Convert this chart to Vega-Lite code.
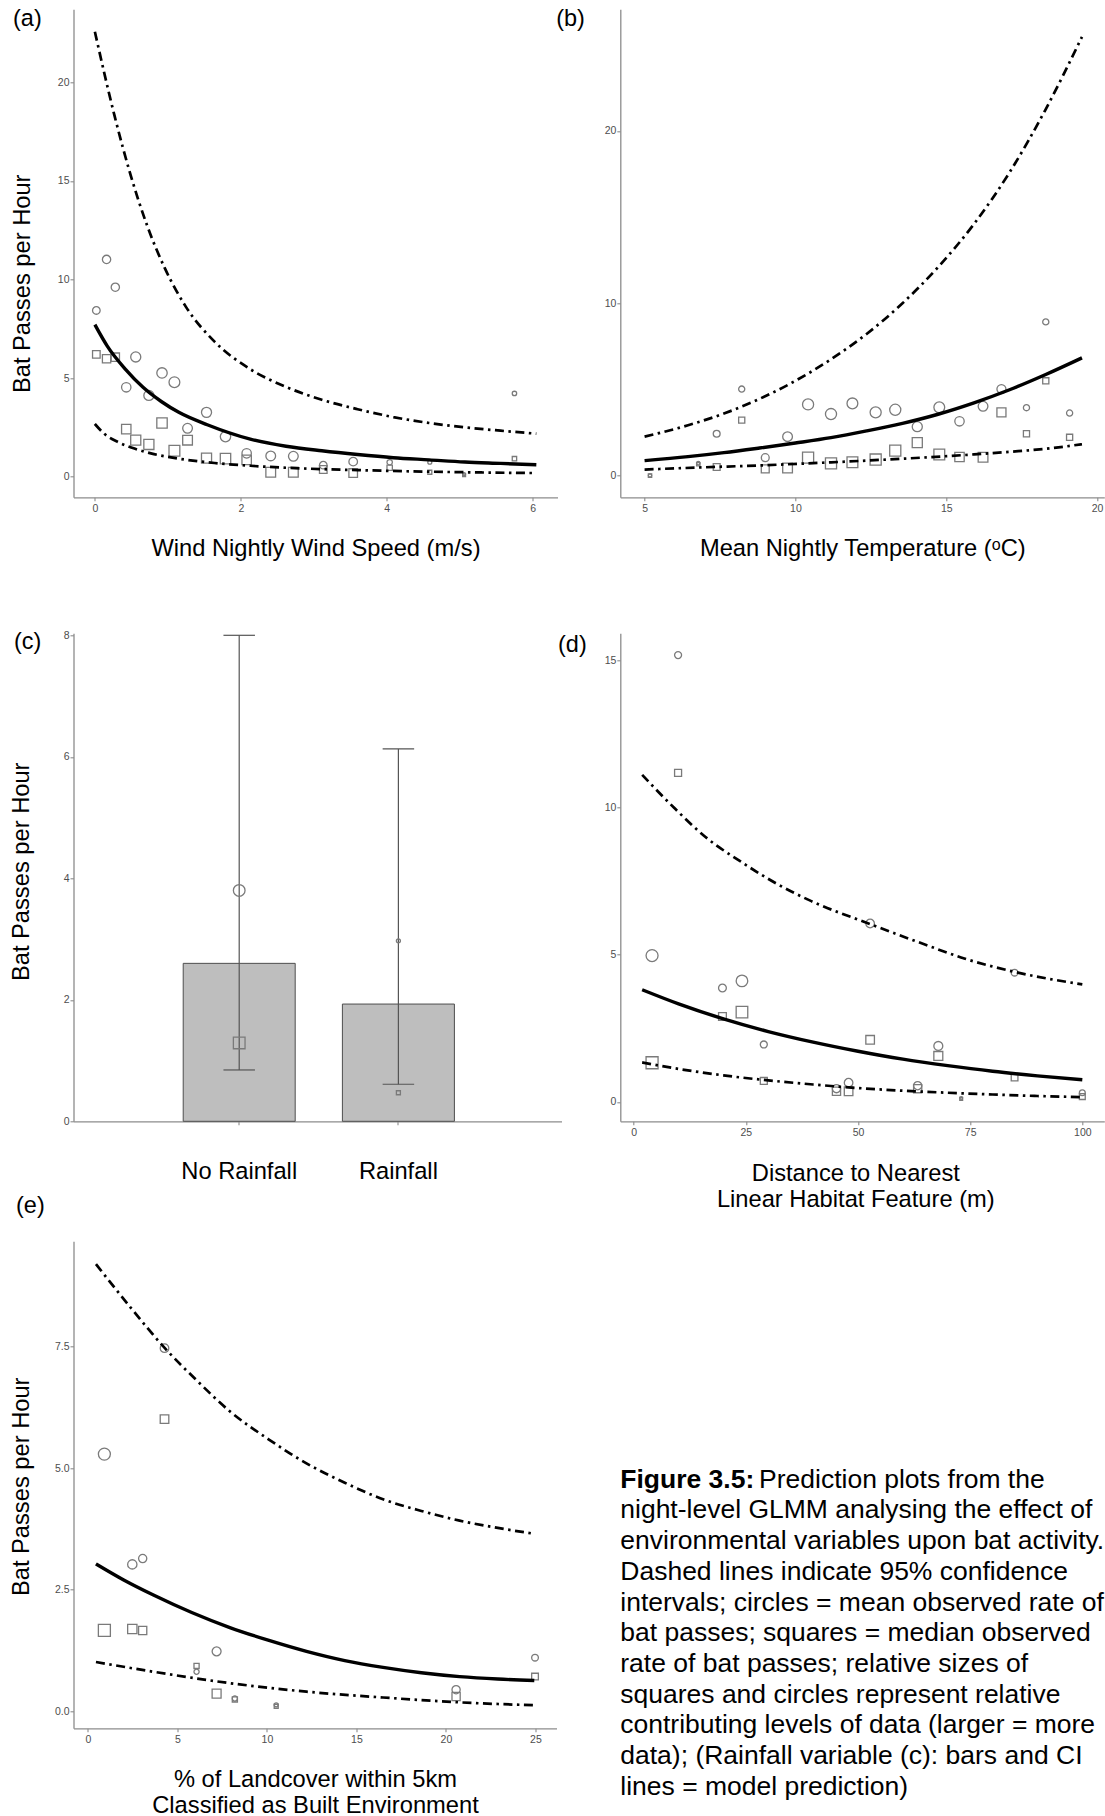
{
  "$schema": "https://vega.github.io/schema/vega-lite/v6.json",
  "padding": {"left": 9.5, "top": 7.3, "right": 0, "bottom": 0},
  "bounds": "flush",
  "align": "each",
  "columns": 2,
  "spacing": {"row": 0, "column": 58.8},
  "concat": [
    {
      "width": 484, "height": 488,
      "title": {"text": "(a)", "dx": -60.5, "dy": 25.7},
      "encoding": {
        "x": {"field": "x", "type": "quantitative", "scale": {"domain": [-0.293, 6.34], "nice": false, "zero": false}, "axis": {"values": [0, 2, 4, 6], "title": "Wind Nightly Wind Speed (m/s)", "titleY": 39.3}},
        "y": {"field": "y", "type": "quantitative", "scale": {"domain": [-1.05, 23.71], "nice": false, "zero": false}, "axis": {"values": [0, 5, 10, 15, 20], "title": "Bat Passes per Hour", "titleX": -43.7, "titleY": 274}}
      },
      "layer": [
        {
          "data": {"name": "a_pts"},
          "transform": [{"fold": ["mean", "median"], "as": ["stat", "y"]}],
          "mark": {"type": "point", "filled": false, "strokeWidth": 1.3, "color": "#7a7a7a", "opacity": 1},
          "encoding": {
            "shape": {"field": "stat", "type": "nominal", "scale": {"domain": ["mean", "median"], "range": ["circle", "square"]}, "legend": null},
            "size": {"field": "w", "type": "quantitative", "scale": {"domain": [0, 20], "range": [0, 160]}, "legend": null}
          }
        },
        {
          "data": {"name": "a_cur"},
          "transform": [{"filter": "datum.band != 'fit'"}],
          "mark": {"type": "line", "color": "#000000", "strokeWidth": 2.7, "strokeDash": [9, 4.5, 2.5, 4.5], "interpolate": "monotone"},
          "encoding": {"detail": {"field": "band", "type": "nominal"}}
        },
        {
          "data": {"name": "a_cur"},
          "transform": [{"filter": "datum.band == 'fit'"}],
          "mark": {"type": "line", "color": "#000000", "strokeWidth": 3.4, "interpolate": "monotone"},
          "encoding": {}
        }
      ]
    },
    {
      "width": 484, "height": 488,
      "title": {"text": "(b)", "dx": -64.1, "dy": 25.7},
      "encoding": {
        "x": {"field": "x", "type": "quantitative", "scale": {"domain": [4.195, 20.24], "nice": false, "zero": false}, "axis": {"values": [5, 10, 15, 20], "title": "Mean Nightly Temperature (ᵒC)", "titleY": 39.3}},
        "y": {"field": "y", "type": "quantitative", "scale": {"domain": [-1.26, 27.06], "nice": false, "zero": false}, "axis": {"values": [0, 10, 20], "title": null}}
      },
      "layer": [
        {
          "data": {"name": "b_pts"},
          "transform": [{"fold": ["mean", "median"], "as": ["stat", "y"]}],
          "mark": {"type": "point", "filled": false, "strokeWidth": 1.3, "color": "#7a7a7a", "opacity": 1},
          "encoding": {
            "shape": {"field": "stat", "type": "nominal", "scale": {"domain": ["mean", "median"], "range": ["circle", "square"]}, "legend": null},
            "size": {"field": "w", "type": "quantitative", "scale": {"domain": [0, 20], "range": [0, 160]}, "legend": null}
          }
        },
        {
          "data": {"name": "b_cur"},
          "transform": [{"filter": "datum.band != 'fit'"}],
          "mark": {"type": "line", "color": "#000000", "strokeWidth": 2.7, "strokeDash": [9, 4.5, 2.5, 4.5], "interpolate": "monotone"},
          "encoding": {"detail": {"field": "band", "type": "nominal"}}
        },
        {
          "data": {"name": "b_cur"},
          "transform": [{"filter": "datum.band == 'fit'"}],
          "mark": {"type": "line", "color": "#000000", "strokeWidth": 3.4, "interpolate": "monotone"},
          "encoding": {}
        }
      ]
    },
    {"width": 1, "height": 136, "data": {"values": []}, "mark": "point", "encoding": {}},
    {"width": 1, "height": 136, "data": {"values": []}, "mark": "point", "encoding": {}},
    {
      "width": 488, "height": 488,
      "title": {"text": "(c)", "dx": -59.5, "dy": 27.2},
      "data": {"name": "c_dat"},
      "encoding": {
        "x": {"field": "cond", "type": "nominal", "sort": null, "scale": {"paddingInner": 0.2965, "paddingOuter": 0.681, "align": 0.506}, "axis": {"title": null, "labelAngle": 0, "labelFontSize": 23.7, "labelColor": "#000000", "labelPadding": 34.5}}
      },
      "layer": [
        {
          "mark": {"type": "bar", "fill": "#bebebe", "stroke": "#4d4d4d", "strokeWidth": 1},
          "encoding": {"y": {"field": "pred", "type": "quantitative", "title": "Bat Passes per Hour", "scale": {"domain": [0, 8.033], "nice": false, "zero": false}, "axis": {"values": [0, 2, 4, 6, 8], "format": "d", "titleX": -44.7, "titleY": 238}}}
        },
        {
          "mark": {"type": "rule", "color": "#555555", "strokeWidth": 1.2},
          "encoding": {"y": {"field": "lo", "type": "quantitative", "title": "Bat Passes per Hour", "scale": {"domain": [0, 8.033], "nice": false, "zero": false}, "axis": {"values": [0, 2, 4, 6, 8], "format": "d", "titleX": -44.7, "titleY": 238}}, "y2": {"field": "hi"}}
        },
        {
          "mark": {"type": "tick", "color": "#555555", "size": 31.5, "thickness": 1.2, "opacity": 1},
          "encoding": {"y": {"field": "lo", "type": "quantitative", "title": "Bat Passes per Hour", "scale": {"domain": [0, 8.033], "nice": false, "zero": false}, "axis": {"values": [0, 2, 4, 6, 8], "format": "d", "titleX": -44.7, "titleY": 238}}}
        },
        {
          "mark": {"type": "tick", "color": "#555555", "size": 31.5, "thickness": 1.2, "opacity": 1},
          "encoding": {"y": {"field": "hi", "type": "quantitative", "title": "Bat Passes per Hour", "scale": {"domain": [0, 8.033], "nice": false, "zero": false}, "axis": {"values": [0, 2, 4, 6, 8], "format": "d", "titleX": -44.7, "titleY": 238}}}
        },
        {
          "transform": [{"fold": ["mean", "median"], "as": ["stat", "obs"]}],
          "mark": {"type": "point", "filled": false, "strokeWidth": 1.3, "color": "#7a7a7a", "opacity": 1},
          "encoding": {
            "y": {"field": "obs", "type": "quantitative", "title": "Bat Passes per Hour", "scale": {"domain": [0, 8.033], "nice": false, "zero": false}, "axis": {"values": [0, 2, 4, 6, 8], "format": "d", "titleX": -44.7, "titleY": 238}},
            "shape": {"field": "stat", "type": "nominal", "scale": {"domain": ["mean", "median"], "range": ["circle", "square"]}, "legend": null},
            "size": {"field": "w", "type": "quantitative", "scale": {"domain": [0, 20], "range": [0, 160]}, "legend": null}
          }
        }
      ]
    },
    {
      "width": 484, "height": 488,
      "title": {"text": "(d)", "dx": -62.3, "dy": 27.2},
      "encoding": {
        "x": {"field": "x", "type": "quantitative", "scale": {"domain": [-2.99, 104.9], "nice": false, "zero": false}, "axis": {"values": [0, 25, 50, 75, 100], "title": ["Distance to Nearest", "Linear Habitat Feature (m)"], "titleY": 40.5, "titleX": 235, "titleLineHeight": 26}},
        "y": {"field": "y", "type": "quantitative", "scale": {"domain": [-0.66, 15.92], "nice": false, "zero": false}, "axis": {"values": [0, 5, 10, 15], "title": null}}
      },
      "layer": [
        {
          "data": {"name": "d_pts"},
          "transform": [{"fold": ["mean", "median"], "as": ["stat", "y"]}],
          "mark": {"type": "point", "filled": false, "strokeWidth": 1.3, "color": "#7a7a7a", "opacity": 1},
          "encoding": {
            "shape": {"field": "stat", "type": "nominal", "scale": {"domain": ["mean", "median"], "range": ["circle", "square"]}, "legend": null},
            "size": {"field": "w", "type": "quantitative", "scale": {"domain": [0, 20], "range": [0, 160]}, "legend": null}
          }
        },
        {
          "data": {"name": "d_cur"},
          "transform": [{"filter": "datum.band != 'fit'"}],
          "mark": {"type": "line", "color": "#000000", "strokeWidth": 2.7, "strokeDash": [9, 4.5, 2.5, 4.5], "interpolate": "monotone"},
          "encoding": {"detail": {"field": "band", "type": "nominal"}}
        },
        {
          "data": {"name": "d_cur"},
          "transform": [{"filter": "datum.band == 'fit'"}],
          "mark": {"type": "line", "color": "#000000", "strokeWidth": 3.4, "interpolate": "monotone"},
          "encoding": {}
        }
      ]
    },
    {"width": 1, "height": 119.3, "data": {"values": []}, "mark": "point", "encoding": {}},
    {"width": 1, "height": 119.3, "data": {"values": []}, "mark": "point", "encoding": {}},
    {
      "width": 483, "height": 487,
      "title": {"text": "(e)", "dx": -57.5, "dy": -19.9},
      "encoding": {
        "x": {"field": "x", "type": "quantitative", "scale": {"domain": [-0.805, 26.18], "nice": false, "zero": false}, "axis": {"values": [0, 5, 10, 15, 20, 25], "title": ["% of Landcover within 5km", "Classified as Built Environment"], "titleY": 39, "titleLineHeight": 26.6}},
        "y": {"field": "y", "type": "quantitative", "scale": {"domain": [-0.354, 9.67], "nice": false, "zero": false}, "axis": {"values": [0, 2.5, 5, 7.5], "format": ".1f", "title": "Bat Passes per Hour", "titleX": -44.7, "titleY": 245}}
      },
      "layer": [
        {
          "data": {"name": "e_pts"},
          "transform": [{"fold": ["mean", "median"], "as": ["stat", "y"]}],
          "mark": {"type": "point", "filled": false, "strokeWidth": 1.3, "color": "#7a7a7a", "opacity": 1},
          "encoding": {
            "shape": {"field": "stat", "type": "nominal", "scale": {"domain": ["mean", "median"], "range": ["circle", "square"]}, "legend": null},
            "size": {"field": "w", "type": "quantitative", "scale": {"domain": [0, 20], "range": [0, 160]}, "legend": null}
          }
        },
        {
          "data": {"name": "e_cur"},
          "transform": [{"filter": "datum.band != 'fit'"}],
          "mark": {"type": "line", "color": "#000000", "strokeWidth": 2.7, "strokeDash": [9, 4.5, 2.5, 4.5], "interpolate": "monotone"},
          "encoding": {"detail": {"field": "band", "type": "nominal"}}
        },
        {
          "data": {"name": "e_cur"},
          "transform": [{"filter": "datum.band == 'fit'"}],
          "mark": {"type": "line", "color": "#000000", "strokeWidth": 3.4, "interpolate": "monotone"},
          "encoding": {}
        }
      ]
    },
    {
      "width": 486, "height": 560,
      "data": {"name": "caption"},
      "encoding": {
        "y": {"field": "line", "type": "quantitative", "scale": {"domain": [-7.029, 11.212], "reverse": true, "nice": false, "zero": false}, "axis": null},
        "x": {"value": 0},
        "text": {"field": "text", "type": "nominal"}
      },
      "layer": [
        {
          "transform": [{"filter": "datum.part == 'bold'"}],
          "mark": {"type": "text", "align": "left", "baseline": "alphabetic", "font": "Liberation Sans", "fontSize": 26.5, "fontWeight": "bold", "color": "#000000"}
        },
        {
          "transform": [{"filter": "datum.part == 'rest'"}],
          "mark": {"type": "text", "align": "left", "baseline": "alphabetic", "font": "Liberation Sans", "fontSize": 26.5, "dx": 138.8, "color": "#000000"}
        },
        {
          "transform": [{"filter": "datum.part == 'normal'"}],
          "mark": {"type": "text", "align": "left", "baseline": "alphabetic", "font": "Liberation Sans", "fontSize": 26.5, "color": "#000000"}
        }
      ]
    }
  ],
  "datasets": {
    "a_pts": [
      {"x": 0.02, "mean": 8.43, "median": 6.2, "w": 7.2},
      {"x": 0.16, "mean": 11.02, "median": 5.98, "w": 8.6},
      {"x": 0.28, "mean": 9.61, "median": 6.06, "w": 8.6},
      {"x": 0.43, "mean": 4.53, "median": 2.41, "w": 11},
      {"x": 0.56, "mean": 6.07, "median": 1.85, "w": 12.7},
      {"x": 0.74, "mean": 4.12, "median": 1.63, "w": 12.7},
      {"x": 0.92, "mean": 5.26, "median": 2.72, "w": 13.5},
      {"x": 1.09, "mean": 4.79, "median": 1.31, "w": 14.6},
      {"x": 1.27, "mean": 2.45, "median": 1.85, "w": 11.8},
      {"x": 1.53, "mean": 3.26, "median": 0.94, "w": 12.7},
      {"x": 1.79, "mean": 2.03, "median": 0.91, "w": 13.5},
      {"x": 2.08, "mean": 1.18, "median": 0.85, "w": 11},
      {"x": 2.41, "mean": 1.05, "median": 0.22, "w": 11.8},
      {"x": 2.72, "mean": 1.03, "median": 0.22, "w": 11.8},
      {"x": 3.13, "mean": 0.58, "median": 0.36, "w": 7.2},
      {"x": 3.54, "mean": 0.76, "median": 0.18, "w": 9.2},
      {"x": 4.04, "mean": 0.73, "median": 0.45, "w": 3.6},
      {"x": 4.59, "mean": 0.73, "median": 0.22, "w": 2},
      {"x": 5.06, "mean": 0.13, "median": 0.07, "w": 1.05},
      {"x": 5.75, "mean": 4.22, "median": 0.91, "w": 2.4}
    ],
    "a_cur": [
      {"band": "fit", "x": 0, "y": 7.71}, {"band": "fit", "x": 0.17, "y": 6.62}, {"band": "fit", "x": 0.42, "y": 5.44}, {"band": "fit", "x": 0.66, "y": 4.53},
      {"band": "fit", "x": 0.91, "y": 3.81}, {"band": "fit", "x": 1.15, "y": 3.26}, {"band": "fit", "x": 1.54, "y": 2.63}, {"band": "fit", "x": 2.13, "y": 1.9},
      {"band": "fit", "x": 2.62, "y": 1.54}, {"band": "fit", "x": 3.11, "y": 1.31}, {"band": "fit", "x": 3.6, "y": 1.12}, {"band": "fit", "x": 4.09, "y": 0.96},
      {"band": "fit", "x": 4.58, "y": 0.85}, {"band": "fit", "x": 5.07, "y": 0.74}, {"band": "fit", "x": 5.56, "y": 0.67}, {"band": "fit", "x": 6.05, "y": 0.6},
      {"band": "hi", "x": 0, "y": 22.57}, {"band": "hi", "x": 0.27, "y": 18.3}, {"band": "hi", "x": 0.49, "y": 15.3}, {"band": "hi", "x": 0.71, "y": 12.8},
      {"band": "hi", "x": 0.955, "y": 10.6}, {"band": "hi", "x": 1.25, "y": 8.6}, {"band": "hi", "x": 1.64, "y": 6.85}, {"band": "hi", "x": 2.13, "y": 5.45},
      {"band": "hi", "x": 2.62, "y": 4.55}, {"band": "hi", "x": 3.11, "y": 3.9}, {"band": "hi", "x": 3.6, "y": 3.42}, {"band": "hi", "x": 4.09, "y": 3.02},
      {"band": "hi", "x": 4.58, "y": 2.72}, {"band": "hi", "x": 5.07, "y": 2.5}, {"band": "hi", "x": 5.56, "y": 2.33}, {"band": "hi", "x": 6.05, "y": 2.18},
      {"band": "lo", "x": 0, "y": 2.67}, {"band": "lo", "x": 0.12, "y": 2.2}, {"band": "lo", "x": 0.32, "y": 1.75}, {"band": "lo", "x": 0.56, "y": 1.4},
      {"band": "lo", "x": 0.81, "y": 1.14}, {"band": "lo", "x": 1.15, "y": 0.91}, {"band": "lo", "x": 1.64, "y": 0.69}, {"band": "lo", "x": 2.13, "y": 0.55},
      {"band": "lo", "x": 2.62, "y": 0.45}, {"band": "lo", "x": 3.11, "y": 0.38}, {"band": "lo", "x": 3.6, "y": 0.33}, {"band": "lo", "x": 4.58, "y": 0.25},
      {"band": "lo", "x": 5.3, "y": 0.21}, {"band": "lo", "x": 6.05, "y": 0.18}
    ],
    "b_pts": [
      {"x": 5.18, "mean": 0.0, "median": 0.0, "w": 1.4},
      {"x": 6.78, "mean": 0.72, "median": 0.66, "w": 1.4},
      {"x": 7.39, "mean": 2.43, "median": 0.5, "w": 5.9},
      {"x": 8.22, "mean": 5.02, "median": 3.22, "w": 4.7},
      {"x": 9.0, "mean": 1.04, "median": 0.39, "w": 7.8},
      {"x": 9.74, "mean": 2.26, "median": 0.44, "w": 11.8},
      {"x": 10.42, "mean": 4.13, "median": 1.04, "w": 15.4},
      {"x": 11.18, "mean": 3.57, "median": 0.71, "w": 15.4},
      {"x": 11.89, "mean": 4.19, "median": 0.77, "w": 14.6},
      {"x": 12.66, "mean": 3.67, "median": 0.93, "w": 15.4},
      {"x": 13.31, "mean": 3.82, "median": 1.45, "w": 15.4},
      {"x": 14.04, "mean": 2.84, "median": 1.91, "w": 12.7},
      {"x": 14.77, "mean": 3.96, "median": 1.22, "w": 14.6},
      {"x": 15.44, "mean": 3.15, "median": 1.08, "w": 11},
      {"x": 16.22, "mean": 4.02, "median": 1.06, "w": 11.8},
      {"x": 16.83, "mean": 5.02, "median": 3.67, "w": 10.2},
      {"x": 17.66, "mean": 3.94, "median": 2.43, "w": 4.7},
      {"x": 18.3, "mean": 8.92, "median": 5.5, "w": 4.7},
      {"x": 19.09, "mean": 3.63, "median": 2.22, "w": 4.7}
    ],
    "b_cur": [
      {"band": "fit", "x": 5, "y": 0.87}, {"band": "fit", "x": 6.44, "y": 1.1}, {"band": "fit", "x": 7.63, "y": 1.33}, {"band": "fit", "x": 8.81, "y": 1.6},
      {"band": "fit", "x": 10, "y": 1.89}, {"band": "fit", "x": 11.18, "y": 2.2}, {"band": "fit", "x": 12.36, "y": 2.59}, {"band": "fit", "x": 13.55, "y": 3.03},
      {"band": "fit", "x": 14.73, "y": 3.56}, {"band": "fit", "x": 15.92, "y": 4.22}, {"band": "fit", "x": 17.1, "y": 4.98}, {"band": "fit", "x": 18.28, "y": 5.85},
      {"band": "fit", "x": 19.5, "y": 6.83},
      {"band": "hi", "x": 5, "y": 2.26}, {"band": "hi", "x": 6.44, "y": 2.92}, {"band": "hi", "x": 7.63, "y": 3.6}, {"band": "hi", "x": 8.81, "y": 4.45},
      {"band": "hi", "x": 10, "y": 5.5}, {"band": "hi", "x": 11.18, "y": 6.75}, {"band": "hi", "x": 12.36, "y": 8.22}, {"band": "hi", "x": 13.55, "y": 10.0},
      {"band": "hi", "x": 14.73, "y": 12.1}, {"band": "hi", "x": 15.92, "y": 14.6}, {"band": "hi", "x": 17.1, "y": 17.6}, {"band": "hi", "x": 18.28, "y": 21.2},
      {"band": "hi", "x": 19.5, "y": 25.46},
      {"band": "lo", "x": 5, "y": 0.35}, {"band": "lo", "x": 6.8, "y": 0.47}, {"band": "lo", "x": 8.81, "y": 0.59}, {"band": "lo", "x": 11.18, "y": 0.77},
      {"band": "lo", "x": 13.55, "y": 0.98}, {"band": "lo", "x": 15.92, "y": 1.23}, {"band": "lo", "x": 17.1, "y": 1.38}, {"band": "lo", "x": 18.28, "y": 1.55},
      {"band": "lo", "x": 19.5, "y": 1.82}
    ],
    "c_dat": [
      {"cond": "No Rainfall", "pred": 2.6, "lo": 0.845, "hi": 8.0, "mean": 3.8, "median": 1.29, "w": 17},
      {"cond": "Rainfall", "pred": 1.93, "lo": 0.61, "hi": 6.13, "mean": 2.97, "median": 0.47, "w": 2}
    ],
    "d_pts": [
      {"x": 4.09, "mean": 4.97, "median": 1.33, "w": 18},
      {"x": 9.89, "mean": 15.18, "median": 11.18, "w": 6.1},
      {"x": 19.78, "mean": 3.87, "median": 2.9, "w": 7.6},
      {"x": 24.13, "mean": 4.11, "median": 3.05, "w": 16.8},
      {"x": 29.0, "mean": 1.95, "median": 0.71, "w": 6.1},
      {"x": 45.2, "mean": 0.45, "median": 0.36, "w": 8.4},
      {"x": 47.9, "mean": 0.65, "median": 0.36, "w": 9.2},
      {"x": 52.7, "mean": 6.06, "median": 2.11, "w": 9.2},
      {"x": 63.3, "mean": 0.55, "median": 0.45, "w": 8.4},
      {"x": 67.9, "mean": 1.9, "median": 1.56, "w": 10},
      {"x": 73.0, "mean": 0.13, "median": 0.1, "w": 1},
      {"x": 84.9, "mean": 4.39, "median": 0.83, "w": 5.6},
      {"x": 100, "mean": 0.31, "median": 0.18, "w": 4.3}
    ],
    "d_cur": [
      {"band": "fit", "x": 1.88, "y": 3.81}, {"band": "fit", "x": 10, "y": 3.33}, {"band": "fit", "x": 20, "y": 2.82}, {"band": "fit", "x": 30, "y": 2.39},
      {"band": "fit", "x": 40, "y": 2.03}, {"band": "fit", "x": 50, "y": 1.72}, {"band": "fit", "x": 60, "y": 1.45}, {"band": "fit", "x": 70, "y": 1.23},
      {"band": "fit", "x": 80, "y": 1.04}, {"band": "fit", "x": 90, "y": 0.885}, {"band": "fit", "x": 100, "y": 0.75},
      {"band": "hi", "x": 1.88, "y": 11.11}, {"band": "hi", "x": 8.95, "y": 10.0}, {"band": "hi", "x": 16, "y": 9.0}, {"band": "hi", "x": 24.3, "y": 8.12},
      {"band": "hi", "x": 32, "y": 7.4}, {"band": "hi", "x": 39.6, "y": 6.82}, {"band": "hi", "x": 52.7, "y": 6.04}, {"band": "hi", "x": 65.2, "y": 5.33},
      {"band": "hi", "x": 73.7, "y": 4.87}, {"band": "hi", "x": 84.8, "y": 4.42}, {"band": "hi", "x": 100, "y": 3.99},
      {"band": "lo", "x": 1.88, "y": 1.34}, {"band": "lo", "x": 10, "y": 1.12}, {"band": "lo", "x": 20, "y": 0.9}, {"band": "lo", "x": 30, "y": 0.73},
      {"band": "lo", "x": 40, "y": 0.59}, {"band": "lo", "x": 50, "y": 0.47}, {"band": "lo", "x": 60, "y": 0.38}, {"band": "lo", "x": 70, "y": 0.31},
      {"band": "lo", "x": 80, "y": 0.25}, {"band": "lo", "x": 90, "y": 0.2}, {"band": "lo", "x": 100, "y": 0.16}
    ],
    "e_pts": [
      {"x": 0.92, "mean": 5.29, "median": 1.66, "w": 18},
      {"x": 2.48, "mean": 3.02, "median": 1.69, "w": 10.8},
      {"x": 3.06, "mean": 3.14, "median": 1.66, "w": 8.4},
      {"x": 4.28, "mean": 7.47, "median": 6.01, "w": 9.2},
      {"x": 6.07, "mean": 0.81, "median": 0.93, "w": 3.3},
      {"x": 7.19, "mean": 1.23, "median": 0.36, "w": 10},
      {"x": 8.21, "mean": 0.26, "median": 0.24, "w": 3.3},
      {"x": 10.52, "mean": 0.13, "median": 0.1, "w": 2},
      {"x": 20.57, "mean": 0.44, "median": 0.3, "w": 8.4},
      {"x": 24.98, "mean": 1.1, "median": 0.71, "w": 5.6}
    ],
    "e_cur": [
      {"band": "fit", "x": 0.45, "y": 3.03}, {"band": "fit", "x": 2, "y": 2.7}, {"band": "fit", "x": 3.66, "y": 2.39}, {"band": "fit", "x": 5.8, "y": 2.03},
      {"band": "fit", "x": 7.93, "y": 1.72}, {"band": "fit", "x": 10.07, "y": 1.46}, {"band": "fit", "x": 12.21, "y": 1.23}, {"band": "fit", "x": 14.35, "y": 1.04},
      {"band": "fit", "x": 16.49, "y": 0.9}, {"band": "fit", "x": 18.63, "y": 0.79}, {"band": "fit", "x": 20.77, "y": 0.71}, {"band": "fit", "x": 22.9, "y": 0.66},
      {"band": "fit", "x": 24.94, "y": 0.63},
      {"band": "hi", "x": 0.45, "y": 9.2}, {"band": "hi", "x": 2.4, "y": 8.3}, {"band": "hi", "x": 4.3, "y": 7.47}, {"band": "hi", "x": 6.1, "y": 6.8},
      {"band": "hi", "x": 7.93, "y": 6.17}, {"band": "hi", "x": 10.07, "y": 5.6}, {"band": "hi", "x": 12.21, "y": 5.1}, {"band": "hi", "x": 14.35, "y": 4.7},
      {"band": "hi", "x": 16.49, "y": 4.36}, {"band": "hi", "x": 18.63, "y": 4.12}, {"band": "hi", "x": 20.77, "y": 3.92}, {"band": "hi", "x": 22.9, "y": 3.77},
      {"band": "hi", "x": 24.94, "y": 3.65},
      {"band": "lo", "x": 0.45, "y": 1.01}, {"band": "lo", "x": 3.66, "y": 0.81}, {"band": "lo", "x": 7.93, "y": 0.575}, {"band": "lo", "x": 12.21, "y": 0.4},
      {"band": "lo", "x": 16.49, "y": 0.28}, {"band": "lo", "x": 20.77, "y": 0.18}, {"band": "lo", "x": 24.94, "y": 0.12}
    ],
    "caption": [
      {"line": 1, "part": "bold", "text": "Figure 3.5:"},
      {"line": 1, "part": "rest", "text": "Prediction plots from the"},
      {"line": 2, "part": "normal", "text": "night-level GLMM analysing the effect of"},
      {"line": 3, "part": "normal", "text": "environmental variables upon bat activity."},
      {"line": 4, "part": "normal", "text": "Dashed lines indicate 95% confidence"},
      {"line": 5, "part": "normal", "text": "intervals; circles = mean observed rate of"},
      {"line": 6, "part": "normal", "text": "bat passes; squares = median observed"},
      {"line": 7, "part": "normal", "text": "rate of bat passes; relative sizes of"},
      {"line": 8, "part": "normal", "text": "squares and circles represent relative"},
      {"line": 9, "part": "normal", "text": "contributing levels of data (larger = more"},
      {"line": 10, "part": "normal", "text": "data); (Rainfall variable (c): bars and CI"},
      {"line": 11, "part": "normal", "text": "lines = model prediction)"}
    ]
  },
  "config": {
    "view": {"stroke": null},
    "font": "Liberation Sans",
    "axis": {"grid": false, "domainColor": "#8c8c8c", "domainWidth": 1.3, "tickColor": "#8c8c8c", "tickWidth": 1.1, "tickSize": 3.5, "labelFont": "Liberation Sans", "labelFontSize": 10.5, "labelColor": "#4d4d4d", "labelFlush": false, "titleFont": "Liberation Sans", "titleFontSize": 23.7, "titleFontWeight": "normal", "titleColor": "#000000"},
    "axisX": {"labelPadding": 3, "titleBaseline": "top", "labelAngle": 0},
    "axisY": {"labelPadding": 1, "titleBaseline": "alphabetic", "titleAngle": -90, "titleAlign": "center"},
    "title": {"anchor": "start", "frame": "group", "orient": "top", "baseline": "alphabetic", "offset": 0, "font": "Liberation Sans", "fontSize": 23.5, "fontWeight": "normal", "color": "#000000"}
  }
}
